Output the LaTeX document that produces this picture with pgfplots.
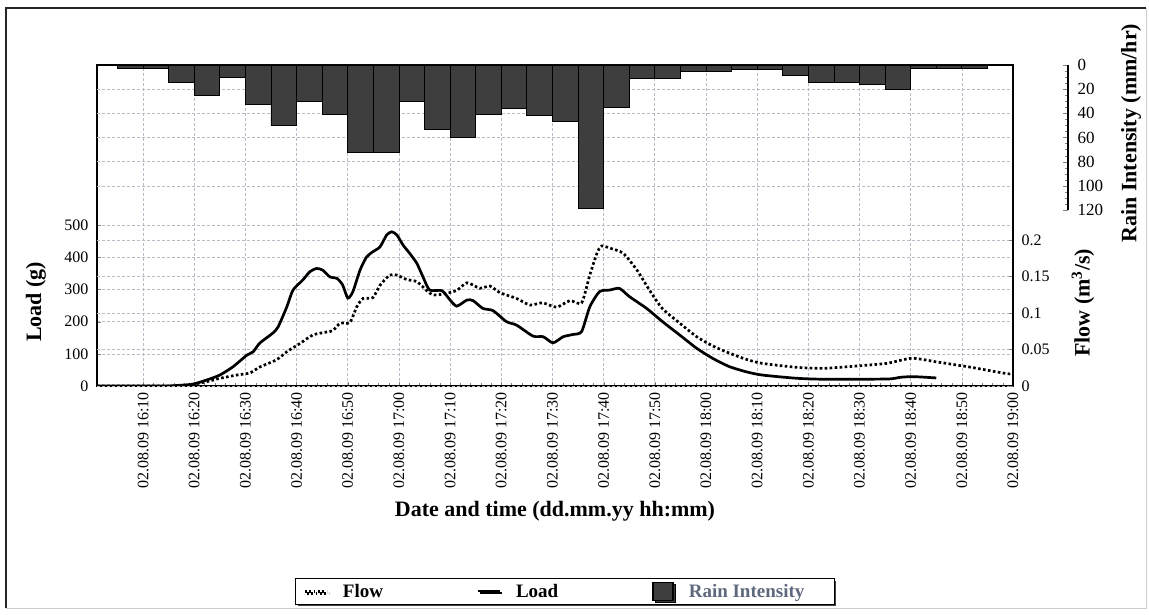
\documentclass[border=0pt]{standalone}
\usepackage{pgfplots}
\pgfplotsset{compat=1.18}
\usepackage{fontspec}
\setmainfont{Liberation Serif}
\usetikzlibrary{shadows}

\definecolor{raingray}{RGB}{62,62,62}
\definecolor{gridgray}{RGB}{185,188,198}
\definecolor{legendblue}{RGB}{95,105,125}

\pgfplotsset{
  base/.style={
    scale only axis, width=916pt, height=321pt,
    at={(0pt,0pt)}, anchor=south west,
    xmin=1, xmax=180,
    /pgf/number format/assume math mode=true,
    tick label style={font=\fontsize{16}{16}\selectfont},
    label style={font=\fontsize{22}{22}\selectfont\bfseries},
    grid style={gridgray, densely dashed, line width=0.6pt},
  },
}

\begin{document}
\begin{tikzpicture}
\useasboundingbox (-97pt,-229pt) rectangle (1052pt,386pt);
\draw[black!85, line width=1.2pt] (-91pt,-222pt) -- (-91pt,378pt) -- (1049pt,378pt);
\draw[black!20, line width=0.8pt] (1049pt,378pt) -- (1049pt,-222pt) -- (-91pt,-222pt);

% frame, time axis, load scale, grid and legend
\begin{axis}[base,
  ymin=0, ymax=997,
  xtick={10,20,...,180},
  xticklabels={02.08.09 16:10,02.08.09 16:20,02.08.09 16:30,02.08.09 16:40,
    02.08.09 16:50,02.08.09 17:00,02.08.09 17:10,02.08.09 17:20,02.08.09 17:30,
    02.08.09 17:40,02.08.09 17:50,02.08.09 18:00,02.08.09 18:10,02.08.09 18:20,
    02.08.09 18:30,02.08.09 18:40,02.08.09 18:50,02.08.09 19:00},
  xticklabel style={rotate=90, anchor=east},
  xticklabel shift=3pt,
  minor x tick num=4,
  xtick pos=left, ytick pos=left,
  ytick={0,100,...,500},
  yticklabel style={xshift=-5pt},
  xmajorgrids, ymajorgrids,
  axis line style={line width=1.1pt},
  xlabel={Date and time (dd.mm.yy hh:mm)},
  xlabel style={at={(axis description cs:0.5,0)}, anchor=center, yshift=-125pt},
  ylabel={Load (g)},
  ylabel style={at={(axis description cs:-0.0666,0.262)}, anchor=center},
  legend columns=3,
  legend image code/.code={\draw[#1] (0pt,0pt) -- (22pt,0pt);},
  legend style={at={(axis description cs:0.511,-0.64)}, anchor=center,
    draw=black, line width=1pt, fill=white,
    font=\fontsize{19}{19}\selectfont\bfseries,
    inner xsep=8pt, inner ysep=3pt,
    /tikz/every odd column/.append style={column sep=13pt},
    /tikz/every even column/.append style={column sep=92pt},
    drop shadow={shadow xshift=2pt, shadow yshift=-2pt, fill=black!75, opacity=1}},
]
\addlegendimage{black, line width=2.2pt, dash pattern=on 1.8pt off 2.6pt}
\addlegendentry{Flow}
\addlegendimage{black, line width=2pt}
\addlegendentry{Load}
\addlegendimage{legend image code/.code={\draw[fill=raingray, draw=black, line width=1.5pt] (0pt,-9pt) rectangle (20pt,9pt);}}
\addlegendentry{\textcolor{legendblue}{Rain Intensity}\hspace*{20pt}}
\end{axis}

% rain intensity bars hanging from the top edge
\begin{axis}[base,
  ymin=0, ymax=265.6, y dir=reverse,
  hide x axis, axis line style={draw=none},
  ytick={20,40,60,80,100}, yticklabels={}, major tick length=0pt,
  ymajorgrids,
]
\addplot[ybar interval, fill=raingray, draw=black, line width=0.8pt] coordinates {
  (5,2.5) (10,2.5) (15,14) (20,25) (25,10) (30,33) (35,50) (40,30) (45,41)
  (50,72) (55,72) (60,30) (65,53) (70,60) (75,41) (80,36) (85,42) (90,47)
  (95,119) (100,35) (105,11) (110,11.5) (115,5) (120,5) (125,4) (130,4)
  (135,9) (140,14) (145,14) (150,16) (155,20) (160,2.5) (165,2.5) (170,2.5)
  (175,2.5)
};
\end{axis}

% flow
\begin{axis}[base,
  ymin=0, ymax=0.44,
  hide x axis, axis y line*=right,
  y axis line style={line width=1.3pt},
  ytick={0,0.05,0.1,0.15,0.2},
  yticklabels={0,0.05,0.1,0.15,0.2},
  yticklabel style={xshift=5pt},
  ymajorgrids,
  ylabel={Flow (m\textsuperscript{3}/s)},
  ylabel style={at={(axis description cs:1.0764,0.259)}, anchor=center},
]
\addplot[black, line width=2.7pt, dash pattern=on 2.6pt off 2.4pt, smooth, tension=0.4] coordinates {
  (1,0) (17,0) (19.5,0.002) (22.5,0.006) (25,0.0105) (28.3,0.015) (30.9,0.018)
  (32.8,0.026) (36.1,0.036) (38.1,0.047) (40.6,0.058) (43.2,0.070) (45.9,0.074)
  (47.1,0.076) (48.5,0.086) (50.4,0.087) (51.8,0.109) (53,0.120) (54.9,0.121)
  (56.3,0.138) (58.2,0.152) (59.6,0.152) (61.5,0.146) (63.5,0.143) (65.4,0.131)
  (66.6,0.125) (68.6,0.126) (71.3,0.131) (73.3,0.1415) (75.8,0.134) (77.8,0.137)
  (79.7,0.128) (83,0.120) (85.6,0.111) (88.1,0.114) (90.8,0.108) (93.4,0.117)
  (95.7,0.114) (97.3,0.152) (98.7,0.182) (99.6,0.192) (101.2,0.189) (103.8,0.182)
  (106.5,0.159) (109,0.131) (111.5,0.106) (114.9,0.086) (118.2,0.0675)
  (121.3,0.055) (124.6,0.045) (127.9,0.0365) (131,0.031) (137.7,0.0256)
  (142.8,0.0242) (148.7,0.027) (155.3,0.031) (160.2,0.038) (165.1,0.033)
  (171.5,0.026) (178.7,0.017) (180,0.017)
};
\end{axis}

% load
\begin{axis}[base, ymin=0, ymax=997, hide axis]
\addplot[black, line width=2.7pt, smooth, tension=0.4] coordinates {
  (1,0) (14,0) (17,2) (19.8,6) (22.5,19) (25,34) (27.6,60) (30.3,96) (31.5,106)
  (32.8,133) (35.4,165) (36.4,184) (38.1,246) (39.3,298) (41.2,329) (42.6,355)
  (43.9,365) (45.1,360) (46.5,339) (47.9,334) (49,314) (50,273) (51,293)
  (52.4,360) (53.7,401) (54.9,417) (56.3,432) (57.6,469) (58.6,479) (59.6,469)
  (60.8,438) (62.1,412) (63.5,381) (64.7,339) (66,298) (68.4,296) (70,267)
  (71.3,248) (73.3,267) (74.5,265) (76.4,241) (78.4,234) (81,200) (83,189)
  (86.2,155) (88.2,153) (90.1,134) (92.1,153) (94,160) (95.7,169) (97.3,246)
  (99.2,293) (101.2,298) (103.1,303) (105.1,277) (108.4,241) (111.5,200)
  (114.9,158) (118.2,117) (121.3,86) (124.6,60) (127.9,44) (131,34) (137.7,24)
  (142.8,21) (150,21) (155.9,22) (158,27) (160,29) (162,28) (165,25)
};
\end{axis}

% rain intensity scale
\begin{axis}[
  scale only axis, width=2pt, height=145pt,
  at={(971pt,321pt)}, anchor=north east,
  xmin=0, xmax=1, ymin=0, ymax=120, y dir=reverse,
  hide x axis, axis y line*=right,
  y axis line style={line width=1.5pt},
  tick align=inside, major tick length=5pt, minor tick length=3pt,
  ytick={0,20,...,120}, minor y tick num=3,
  yticklabel style={xshift=6pt},
  /pgf/number format/assume math mode=true,
  tick label style={font=\fontsize{17}{17}\selectfont},
  ylabel={Rain Intensity (mm/hr)},
  label style={font=\fontsize{22}{22}\selectfont\bfseries},
  ylabel style={at={(axis description cs:32.5,0.53)}, anchor=center},
]
\end{axis}
\end{tikzpicture}
\end{document}
